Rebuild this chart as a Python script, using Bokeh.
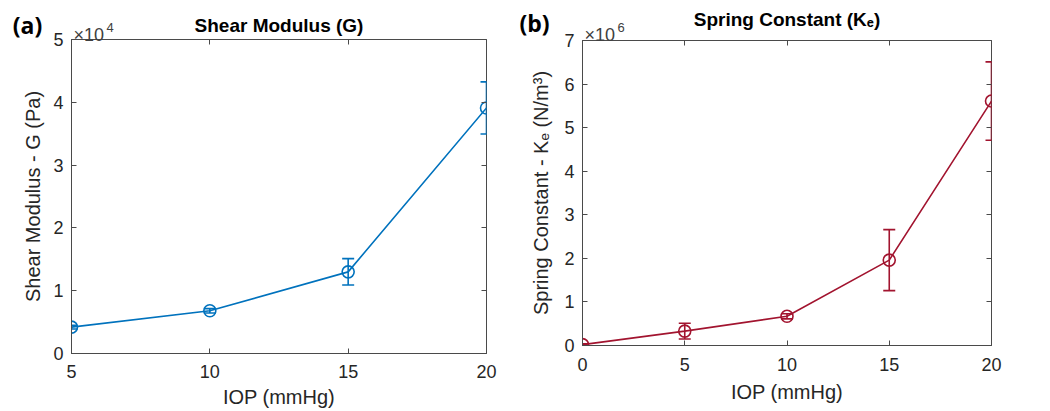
import numpy as np
from bokeh.plotting import figure
from bokeh.models import (ColumnDataSource, Whisker, TeeHead, FixedTicker,
                          LinearAxis, Label, Range1d, CustomJSTickFormatter)
from bokeh.layouts import row, column
from bokeh.embed import file_html
from bokeh.resources import INLINE

# ---------------- data ----------------
iop_a = [5, 10, 15, 20]
shear_G = [4200, 6800, 13000, 39100]          # Pa
shear_G_err = [300, 350, 2100, 4150]          # Pa
scale_a = 1e4
xticks_a = [5, 10, 15, 20]
yticks_a = [0, 1, 2, 3, 4, 5]

iop_b = [0, 5, 10, 15, 20]
spring_K = [0.02e6, 0.33e6, 0.67e6, 1.96e6, 5.61e6]      # N/m^3
spring_K_err = [0.02e6, 0.18e6, 0.06e6, 0.70e6, 0.90e6]  # N/m^3
scale_b = 1e6
xticks_b = [0, 5, 10, 15, 20]
yticks_b = [0, 1, 2, 3, 4, 5, 6, 7]

FONT = "Liberation Sans"
AXC = "#4a4a4a"
TXT = "#262626"
H = 411
W_A, W_B = 520, 530
# borders: left, right, top, bottom
B_A = (71, 34, 39, 58)
B_B = (62, 59, 39, 66)


def make_panel(x, y, err, scale, xticks, yticks, color, title, ylabel,
               width, borders, title_standoff, title_valign, xstand,
               xlab_stand, ylab_stand):
    ys = np.array(y, dtype=float) / scale
    es = np.array(err, dtype=float) / scale
    src = ColumnDataSource(dict(x=x, y=ys, upper=ys + es, lower=ys - es))
    bl, br, bt, bb = borders
    p = figure(width=width, height=H, output_backend="svg",
               toolbar_location=None,
               x_range=Range1d(xticks[0], xticks[-1]),
               y_range=Range1d(yticks[0], yticks[-1]),
               min_border_left=bl, min_border_right=br,
               min_border_top=bt, min_border_bottom=bb)
    p.grid.visible = False
    p.outline_line_color = AXC
    p.title.text = title
    p.title.align = "center"
    p.title.vertical_align = title_valign
    p.title.text_font = FONT
    p.title.text_font_size = "19px"
    p.title.text_font_style = "bold"
    p.title.text_color = "black"
    p.title.standoff = title_standoff

    for ax in (p.xaxis[0], p.yaxis[0]):
        ax.axis_line_color = AXC
        ax.major_tick_line_color = AXC
        ax.major_tick_in = 5
        ax.major_tick_out = 0
        ax.minor_tick_line_color = None
        ax.major_label_text_font = FONT
        ax.major_label_text_font_size = "18px"
        ax.major_label_text_color = TXT
        ax.major_label_text_line_height = 1.0
        ax.axis_label_text_font = FONT
        ax.axis_label_text_font_size = "20px"
        ax.axis_label_text_font_style = "normal"
        ax.axis_label_text_color = TXT
        ax.axis_label_text_line_height = 1.0
    p.xaxis[0].ticker = FixedTicker(ticks=xticks)
    p.yaxis[0].ticker = FixedTicker(ticks=yticks)
    p.xaxis[0].major_label_standoff = xstand
    p.yaxis[0].major_label_standoff = 8
    p.xaxis[0].axis_label = "IOP (mmHg)"
    p.xaxis[0].axis_label_standoff = xlab_stand
    p.yaxis[0].axis_label = ylabel
    p.yaxis[0].axis_label_standoff = ylab_stand

    blank = CustomJSTickFormatter(code="return ''")
    for loc, tk in (("right", yticks), ("above", xticks)):
        a = LinearAxis(ticker=FixedTicker(ticks=tk), formatter=blank,
                       major_label_standoff=0, axis_line_color=None,
                       major_tick_line_color=AXC,
                       major_tick_in=5, major_tick_out=0,
                       minor_tick_line_color=None)
        p.add_layout(a, loc)

    p.line("x", "y", source=src, line_color=color, line_width=1.6)
    p.scatter("x", "y", source=src, marker="circle", size=12,
              fill_color=None, line_color=color, line_width=1.6)
    p.add_layout(Whisker(base="x", upper="upper", lower="lower", source=src,
                 line_color=color, line_width=1.6,
                 upper_head=TeeHead(size=12, line_color=color, line_width=1.6),
                 lower_head=TeeHead(size=12, line_color=color, line_width=1.6)))
    return p


pa = make_panel(iop_a, shear_G, shear_G_err, scale_a, xticks_a, yticks_a,
                "#0072BD", "Shear Modulus (G)", "Shear Modulus - G (Pa)",
                W_A, B_A, 7, "bottom", 11, 5, 6)
pb = make_panel(iop_b, spring_K, spring_K_err, scale_b, xticks_b, yticks_b,
                "#A2142F", "Spring Constant (K\u2091)",
                "Spring Constant - K\u2091 (N/m\u00b3)",
                W_B, B_B, 17, "top", 12, 7, 9)

# transparent overlay carrying the panel tags and the axis exponents
ov = figure(width=W_A + W_B, height=H, output_backend="svg",
            toolbar_location=None, x_axis_location=None, y_axis_location=None,
            x_range=Range1d(0, W_A + W_B), y_range=Range1d(H, 0),
            min_border=0, margin=(-H, 0, 0, 0))
ov.grid.visible = False
ov.outline_line_color = None
ov.background_fill_color = None
ov.border_fill_color = None

left_a = B_A[0]
left_b = W_A + B_B[0]
top = B_A[2]
for tag, fl, dx, dy in (("(a)", left_a, -44, -15), ("(b)", left_b, -48, -17)):
    ov.add_layout(Label(x=fl + dx, y=top + dy, text=tag, text_font="Open Sans",
                        text_font_size="23px", text_font_style="bold",
                        text_color="black", text_align="center",
                        text_baseline="middle"))
for exp, fl in (("4", left_a), ("6", left_b)):
    ov.add_layout(Label(x=fl + 2, y=top - 5, text="\u00d710", text_font=FONT,
                        text_font_size="18px", text_color="#404040",
                        text_align="left", text_baseline="alphabetic"))
    ov.add_layout(Label(x=fl + 35, y=top - 12, text=exp, text_font=FONT,
                        text_font_size="13px", text_color="#404040",
                        text_align="left", text_baseline="alphabetic"))

# panels wrapped separately so their frames are not forced to align
layout = column(row(column(pa), column(pb)), ov)
open("out.html", "w").write(file_html(layout, INLINE))
